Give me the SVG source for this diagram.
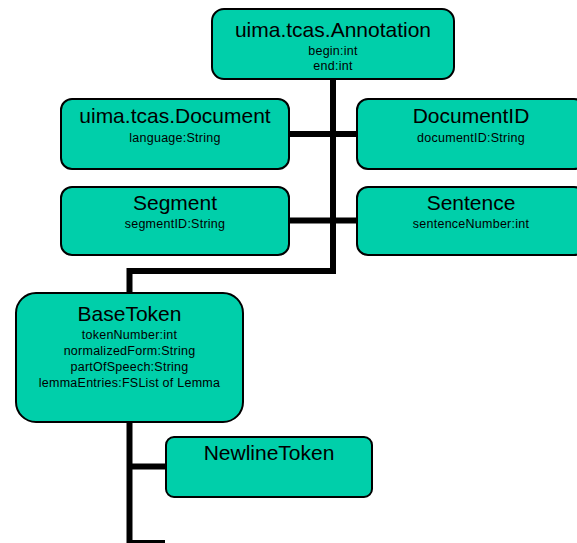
<svg xmlns="http://www.w3.org/2000/svg" width="577" height="543" viewBox="0 0 577 543">
<style>
.box{fill:#00CFAA;stroke:#000;stroke-width:2}
.t{font-family:"Liberation Sans",Arial,sans-serif;font-size:21px;fill:#000;text-anchor:middle}
.s{font-family:"Liberation Sans",Arial,sans-serif;font-size:12.5px;letter-spacing:0.25px;fill:#000;text-anchor:middle}
.c{fill:none;stroke:#000;stroke-width:6;stroke-linejoin:miter;stroke-linecap:butt}
</style>
<rect width="577" height="543" fill="#fff"/>
<g id="connectors">
<path class="c" d="M333,79 V271 H129.5 V293"/>
<path class="c" d="M289,134 H357"/>
<path class="c" d="M289,220.5 H357"/>
<path class="c" d="M129.5,422 V543"/>
<path class="c" d="M129.5,466.5 H166"/>
<path class="c" d="M129.5,543 H165"/>
</g>
<g id="annotation">
<rect class="box" x="212" y="9" width="242" height="70" rx="12"/>
<text class="t" x="333" y="37">uima.tcas.Annotation</text>
<text class="s" x="333" y="55">begin:int</text>
<text class="s" x="333" y="70">end:int</text>
</g>
<g id="document">
<rect class="box" x="61" y="99" width="228" height="70" rx="11"/>
<text class="t" x="175" y="123">uima.tcas.Document</text>
<text class="s" x="175" y="142">language:String</text>
</g>
<g id="documentid">
<rect class="box" x="357" y="99" width="228" height="70" rx="11"/>
<text class="t" x="471" y="123">DocumentID</text>
<text class="s" x="471" y="142">documentID:String</text>
</g>
<g id="segment">
<rect class="box" x="61" y="187" width="228" height="68" rx="11"/>
<text class="t" x="175" y="210">Segment</text>
<text class="s" x="175" y="228">segmentID:String</text>
</g>
<g id="sentence">
<rect class="box" x="357" y="187" width="228" height="68" rx="11"/>
<text class="t" x="471" y="210">Sentence</text>
<text class="s" x="471" y="228">sentenceNumber:int</text>
</g>
<g id="basetoken">
<rect class="box" x="16" y="293" width="227" height="129" rx="20"/>
<text class="t" x="129.5" y="321">BaseToken</text>
<text class="s" x="129.5" y="339">tokenNumber:int</text>
<text class="s" x="129.5" y="355">normalizedForm:String</text>
<text class="s" x="129.5" y="371">partOfSpeech:String</text>
<text class="s" x="129.5" y="387">lemmaEntries:FSList of Lemma</text>
</g>
<g id="newlinetoken">
<rect class="box" x="166" y="437" width="206" height="60" rx="8"/>
<text class="t" x="269" y="460">NewlineToken</text>
</g>
</svg>
